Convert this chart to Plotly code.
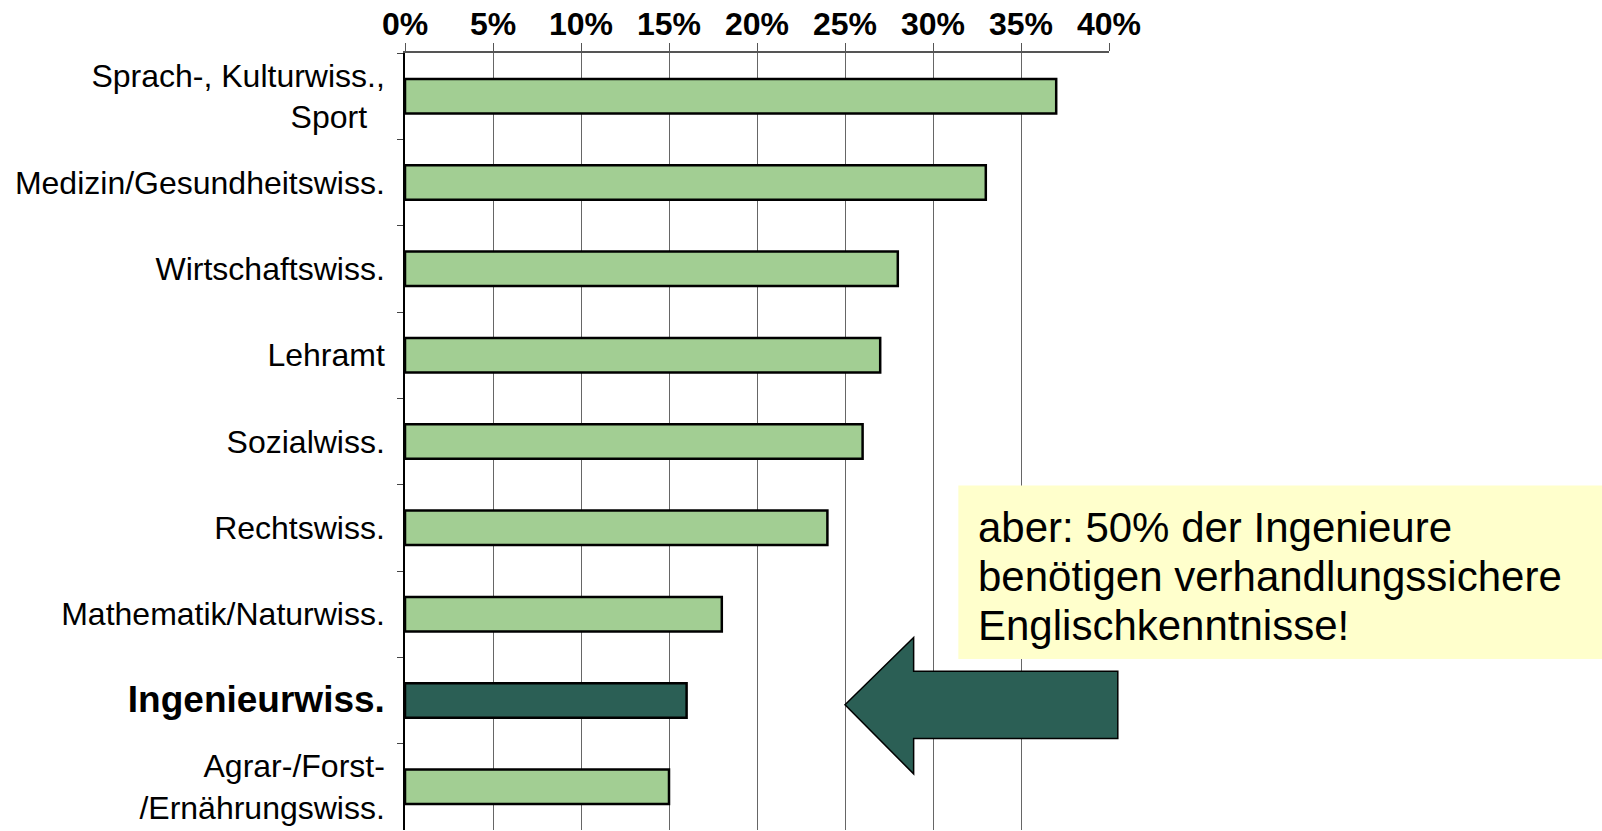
import plotly.graph_objects as go

# ---- data ----
categories = [
    "Sprach-, Kulturwiss.,<br>Sport\u00a0\u00a0",
    "Medizin/Gesundheitswiss.",
    "Wirtschaftswiss.",
    "Lehramt",
    "Sozialwiss.",
    "Rechtswiss.",
    "Mathematik/Naturwiss.",
    "<b><span style='font-size:37px'>Ingenieurwiss.</span></b>",
    "Agrar-/Forst-<br>/Ernährungswiss.",
]
values = [37, 33, 28, 27, 26, 24, 18, 16, 15]
highlight = [False, False, False, False, False, False, False, True, False]
x_ticks = [0, 5, 10, 15, 20, 25, 30, 35, 40]
note_lines = [
    "aber: 50% der Ingenieure",
    "benötigen verhandlungssichere",
    "Englischkenntnisse!",
]

LIGHT = "#A2CE93"
DARK = "#2B5F55"
XMAX = 40
N = len(categories)

colors = [DARK if h else LIGHT for h in highlight]

fig = go.Figure()
fig.add_trace(go.Bar(
    x=values, y=categories, orientation="h",
    marker=dict(color=colors, line=dict(color="black", width=2.5)),
    hoverinfo="x+y",
))

# helpers: data units -> paper units
def px_(v):
    return v / XMAX

def py_(idx):
    return 1 - (idx + 0.5) / N

# arrow pointing at the highlighted bar (x in %, y in category index units)
hi = highlight.index(True)
arrow = [(25.0, hi + 0.05), (28.9, hi - 0.73), (28.9, hi - 0.34), (40.5, hi - 0.34),
         (40.5, hi + 0.44), (28.9, hi + 0.44), (28.9, hi + 0.85)]
path = "M " + " L ".join(f"{px_(x):.5f},{py_(y):.5f}" for x, y in arrow) + " Z"
fig.add_shape(type="path", xref="paper", yref="paper", path=path,
              fillcolor=DARK, line=dict(color="black", width=1.5), layer="above")

# note box
fig.add_shape(type="rect", xref="paper", yref="paper",
              x0=px_(31.44), x1=px_(68.5), y0=py_(6.52), y1=py_(4.51),
              fillcolor="#FFFFCC", line=dict(width=0), layer="above")
for i, line in enumerate(note_lines):
    fig.add_annotation(text=line, xref="paper", yref="paper",
                       x=px_(32.45), y=py_(5.0 + 0.565 * i),
                       xanchor="left", yanchor="middle", showarrow=False,
                       font=dict(family="Liberation Sans, Arial, sans-serif", size=42, color="black"))

fig.update_layout(
    width=1602, height=831,
    margin=dict(l=405, r=493, t=53, b=1),
    paper_bgcolor="white", plot_bgcolor="white",
    bargap=0.6, showlegend=False,
    font=dict(family="Liberation Sans, Arial, sans-serif", size=32, color="black"),
    xaxis=dict(
        side="top", range=[0, XMAX], tickvals=x_ticks,
        ticktext=[f"{t}%" for t in x_ticks],
        tickfont=dict(family="Liberation Sans Narrow, Arial Narrow, Liberation Sans, Arial", size=32, color="black", weight="bold"),
        ticks="outside", ticklen=8, tickcolor="#555",
        showline=True, linecolor="#555", linewidth=1.5,
        showgrid=True, gridcolor="#666", gridwidth=1, zeroline=False,
        ticklabelstandoff=-5,
        fixedrange=True,
    ),
    yaxis=dict(
        type="category", categoryorder="array", categoryarray=categories,
        autorange="reversed", tickson="boundaries",
        ticks="outside", ticklen=6, tickcolor="#444",
        showline=True, linecolor="black", linewidth=1.5,
        showgrid=False, ticklabelstandoff=12,
        tickfont=dict(size=32, color="black"),
        fixedrange=True,
    ),
)

fig.write_html("out.html", config={"displayModeBar": False},
               post_script="document.body.style.margin='0';document.body.style.overflow='hidden';")
